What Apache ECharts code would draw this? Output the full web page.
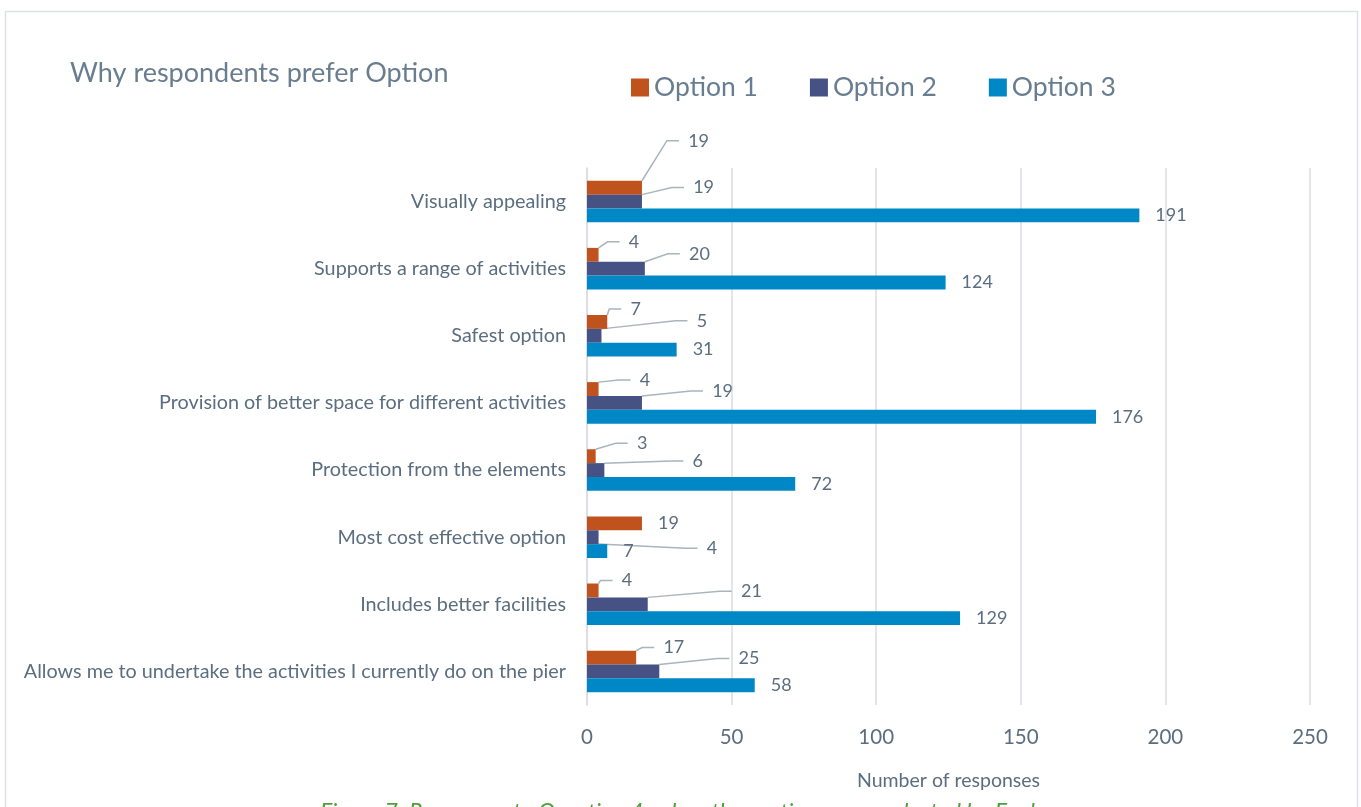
<!DOCTYPE html>
<html>
<head>
<meta charset="utf-8">
<title>Why respondents prefer Option</title>
<script src="https://cdn.jsdelivr.net/npm/echarts@6/dist/echarts.min.js"></script>
<style>
  html, body { margin: 0; padding: 0; background: #fff; }
  #main { width: 1361px; height: 807px; }
</style>
</head>
<body>
<div id="main"></div>
<script>
// categories, top to bottom
var categories = [
    'Visually appealing',
    'Supports a range of activities',
    'Safest option',
    'Provision of better space for different activities',
    'Protection from the elements',
    'Most cost effective option',
    'Includes better facilities',
    'Allows me to undertake the activities I currently do on the pier'
];
var seriesNames = ['Option 1', 'Option 2', 'Option 3'];
var option1 = [19, 4, 7, 4, 3, 19, 4, 17];
var option2 = [19, 20, 5, 19, 6, 4, 21, 25];
var option3 = [191, 124, 31, 176, 72, 7, 129, 58];
var xTicks = [0, 50, 100, 150, 200, 250];

// label nudges (px from bar end) for the callout labels, null = plain label
var nudge1 = [[47, -47], [31, -13], [24, -13], [42, -9], [42, -13], null, [24, -10], [28, -10]];
var nudge2 = [[52, -14], [45, -15], [96, -15], [71, -12], [89, -9], [109, 11], [94, -13], [80, -13]];

var textColor = '#5b6e80';
var font = 'Lato';
var lead = '  ';   // keeps the leader line off the number
var leadWidth = 10;

var myChart = echarts.init(document.getElementById('main'));

function calloutLayout(nudges) {
    return function (params) {
        var n = nudges[params.dataIndex];
        if (!n) {
            return {};
        }
        var endX = params.rect.x + params.rect.width;
        var midY = params.rect.y + params.rect.height / 2;
        return {
            x: endX + n[0] - leadWidth,
            y: midY + n[1],
            align: 'left',
            verticalAlign: 'middle'
        };
    };
}

function calloutText(nudges) {
    return function (p) {
        return nudges[p.dataIndex] ? lead + p.value : String(p.value);
    };
}

var colors = ['#c0531d', '#465184', '#0087c5'];
var dataSets = [option1, option2, option3];
var nudgeSets = [nudge1, nudge2, null];

var series = [];
for (var i = 0; i < 3; i++) {
    var nudges = nudgeSets[i];
    var s = {
        name: seriesNames[i],
        type: 'bar',
        data: dataSets[i],
        barGap: '0%',
        barCategoryGap: '38%',
        itemStyle: {color: colors[i]},
        label: {
            show: true,
            position: 'right',
            distance: 16,
            color: textColor,
            fontFamily: font,
            fontSize: 18
        }
    };
    if (nudges) {
        // plain labels in a callout series get no leader line
        s.data = dataSets[i].map(function (v, k) {
            return nudges[k] ? v : {value: v, labelLine: {show: false}};
        });
        s.label.formatter = calloutText(nudges);
        s.labelLine = {show: true, length2: 12, lineStyle: {color: '#a9b4bd', width: 1.5}};
        s.labelLayout = calloutLayout(nudges);
    }
    series.push(s);
}

var option = {
    animation: false,
    title: {
        text: 'Why respondents prefer Option',
        left: 70,
        top: 60,
        padding: 0,
        textStyle: {
            color: '#687d8f',
            fontFamily: font,
            fontSize: 27,
            fontWeight: 'normal'
        }
    },
    legend: {
        data: seriesNames,
        left: 631,
        top: 74,
        padding: 0,
        itemWidth: 18,
        itemHeight: 18,
        itemGap: 52,
        icon: 'rect',
        textStyle: {
            color: '#687d8f',
            fontFamily: font,
            fontSize: 26.5
        }
    },
    grid: {
        left: 587,
        right: 51,
        top: 168,
        bottom: 102,
        containLabel: false
    },
    xAxis: {
        type: 'value',
        min: xTicks[0],
        max: xTicks[xTicks.length - 1],
        interval: xTicks[1] - xTicks[0],
        name: 'Number of responses',
        nameLocation: 'middle',
        nameGap: 66,
        nameTextStyle: {color: textColor, fontFamily: font, fontSize: 19.5},
        axisLine: {show: false},
        axisTick: {show: false},
        axisLabel: {color: textColor, fontFamily: font, fontSize: 20.5, margin: 22},
        splitLine: {lineStyle: {color: '#d9dde3', width: 1.5}}
    },
    yAxis: {
        type: 'category',
        inverse: true,
        data: categories,
        axisLine: {lineStyle: {color: '#d9dde3', width: 1.5}},
        axisTick: {show: false},
        axisLabel: {color: textColor, fontFamily: font, fontSize: 19.8, margin: 21}
    },
    graphic: [
        {
            type: 'rect',
            shape: {x: 5.5, y: 11.5, width: 1352, height: 830},
            style: {fill: null, stroke: '#dde1e5', lineWidth: 1.5},
            silent: true
        },
        {
            type: 'text',
            left: 320,
            top: 801,
            style: {
                text: 'Figure 7: Responses to Question 4: why other options were selected by Explorer',
                fill: '#4f9f3a',
                font: 'italic 23px Lato'
            },
            silent: true
        }
    ],
    series: series
};
myChart.setOption(option);
</script>
</body>
</html>
